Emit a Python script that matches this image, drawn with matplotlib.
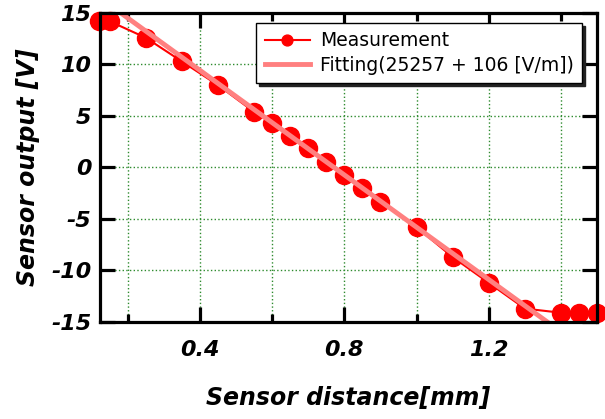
import matplotlib
matplotlib.use('Agg')
import matplotlib.pyplot as plt
from matplotlib.ticker import MultipleLocator
import numpy as np

plt.rcParams['axes.unicode_minus'] = False

# Measured sensor output vs distance
distance_mm = [0.12, 0.15, 0.25, 0.35, 0.45, 0.55, 0.60, 0.65, 0.70, 0.75,
               0.80, 0.85, 0.90, 1.00, 1.10, 1.20, 1.30, 1.40, 1.45, 1.50]
output_v = [14.2, 14.2, 12.6, 10.3, 8.0, 5.4, 4.3, 3.05, 1.9, 0.5,
            -0.7, -2.0, -3.35, -5.8, -8.7, -11.2, -13.7, -14.1, -14.1, -14.1]

# Linear fit line (intercept, slope in V/mm)
fit_intercept = 19.6
fit_slope = -25.4
fit_x = [0.12, 1.5]

fig, ax = plt.subplots(figsize=(6.05, 4.19), dpi=100)
fig.subplots_adjust(left=0.165, right=0.987, top=0.969, bottom=0.2315)

ax.plot(distance_mm, output_v, color='red', lw=1.5, marker='o', ms=13,
        mec='red', label='Measurement', zorder=3, clip_on=False)
fit_y = [fit_intercept + fit_slope * x for x in fit_x]
ax.plot(fit_x, fit_y, color='#ff8080', lw=3.5,
        label='Fitting(25257 + 106 [V/m])', zorder=4)

ax.set_xlim(0.123, 1.5)
ax.set_ylim(-15, 15)
ax.xaxis.set_major_locator(MultipleLocator(0.4))
ax.xaxis.set_minor_locator(MultipleLocator(0.2))
ax.yaxis.set_major_locator(MultipleLocator(5))
ax.set_xticks([0.4, 0.8, 1.2])

ax.grid(which='both', axis='x', color='#2e8b2e', ls=':', lw=1)
ax.grid(which='major', axis='y', color='#2e8b2e', ls=':', lw=1)

for s in ax.spines.values():
    s.set_linewidth(2.3)
    s.set_zorder(5)
ax.tick_params(which='both', direction='in', top=True, right=True, width=2.3)
ax.tick_params(which='major', length=11)
ax.tick_params(which='minor', length=6)
ax.tick_params(axis='x', pad=13)
ax.tick_params(axis='y', pad=6)

tick_font = dict(family='DejaVu Sans', weight='bold', style='italic', size=16)
for lab in ax.get_xticklabels() + ax.get_yticklabels():
    lab.set_fontproperties(matplotlib.font_manager.FontProperties(**tick_font))

ax.set_xlabel('Sensor distance[mm]', fontsize=17, weight='bold', style='italic', labelpad=19)
ax.set_ylabel('Sensor output [V]', fontsize=17, weight='bold', style='italic', labelpad=8)

leg = ax.legend(loc='upper right', bbox_to_anchor=(0.97, 0.968), borderaxespad=0,
                fancybox=False, framealpha=1, edgecolor='black', fontsize=13.5,
                shadow={'color': '#222222', 'alpha': 1, 'ox': 2, 'oy': -2},
                handlelength=2.4, handletextpad=0.55, borderpad=0.45,
                labelspacing=0.28, markerscale=0.6)
leg.get_frame().set_linewidth(1.0)
leg.set_zorder(6)

fig.savefig('out.png', dpi=100)
